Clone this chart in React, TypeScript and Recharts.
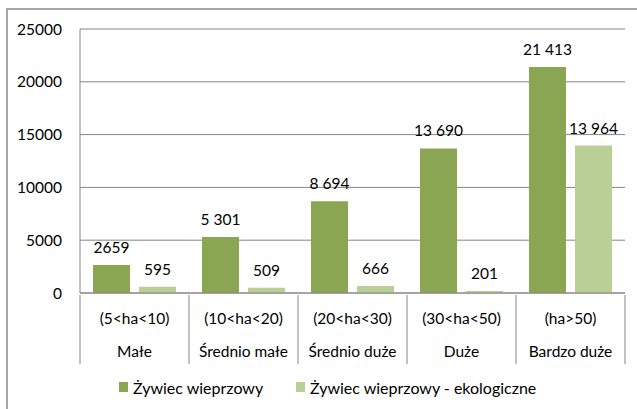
import { Bar, BarChart, CartesianGrid, LabelList, Legend, XAxis, YAxis } from "recharts";

const categories = ["(5<ha<10)", "(10<ha<20)", "(20<ha<30)", "(30<ha<50)", "(ha>50)"];
const groups = ["Małe", "Średnio małe", "Średnio duże", "Duże", "Bardzo duże"];
const pork = [2659, 5301, 8694, 13690, 21413];
const porkLabels = ["2659", "5 301", "8 694", "13 690", "21 413"];
const organic = [595, 509, 666, 201, 13964];
const organicLabels = ["595", "509", "666", "201", "13 964"];
const yTicks = [0, 5000, 10000, 15000, 20000, 25000];
const seriesNames = ["Żywiec wieprzowy", "Żywiec wieprzowy - ekologiczne"];

const DARK = "#8AA652";
const LIGHT = "#B9CF96";
const AXIS = "#868686";
const FONT = "Lato, sans-serif";
const FS = 15.5;

const data = categories.map((c, i) => ({
  name: c,
  group: groups[i],
  pork: pork[i],
  organic: organic[i],
  porkLabel: porkLabels[i],
  organicLabel: organicLabels[i],
}));

function CategoryTick(props: any) {
  const { x, y, payload, index, visibleTicksCount } = props;
  const half = payload?.offset || 54.5;
  const row = data[index];
  return (
    <g>
      <line x1={x - half} x2={x - half} y1={y} y2={y + 69} stroke={AXIS} />
      {index === visibleTicksCount - 1 && (
        <line x1={x + half} x2={x + half} y1={y} y2={y + 69} stroke={AXIS} />
      )}
      <text x={x} y={y + 24} dy="0.35em" textAnchor="middle" fill="#000" fontSize={FS} fontFamily={FONT}>
        {payload.value}
      </text>
      <text x={x} y={y + 57} dy="0.35em" textAnchor="middle" fill="#000" fontSize={FS} fontFamily={FONT}>
        {row ? row.group : ""}
      </text>
    </g>
  );
}

function ValueLabel(props: any) {
  const { x, y, width, value } = props;
  return (
    <text x={x + width / 2} y={y - 12} textAnchor="middle" fill="#000" fontSize={FS} fontFamily={FONT}>
      {value}
    </text>
  );
}

function LegendBox() {
  const colors = [DARK, LIGHT];
  return (
    <div style={{ height: 38, display: "flex", paddingLeft: 111, paddingTop: 14, boxSizing: "border-box",
      fontFamily: FONT, fontSize: 16, color: "#000" }}>
      {seriesNames.map((n, i) => (
        <div key={n} style={{ display: "flex", alignItems: "center", width: i === 0 ? 177 : "auto", height: 20 }}>
          <span style={{ width: 9, height: 10, background: colors[i], marginRight: 5, display: "inline-block" }} />
          <span>{n}</span>
        </div>
      ))}
    </div>
  );
}

export default function App() {
  return (
    <div style={{ position: "absolute", left: 6, top: 8, width: 640, height: 410,
      borderTop: "2px solid #A6A6A6", borderLeft: "2px solid #A6A6A6", background: "#fff" }}>
      <BarChart width={629} height={399} data={data}
        margin={{ top: 19, right: 12, left: 0, bottom: 8 }}
        barCategoryGap={13} barGap={9}>
        <CartesianGrid stroke={AXIS} vertical={false} />
        <XAxis dataKey="name" interval={0} height={70} tickLine={false} tickSize={0}
          axisLine={{ stroke: AXIS }} tick={<CategoryTick />} />
        <YAxis width={72} domain={[0, 25000]} ticks={yTicks} tickLine={false} tickMargin={12}
          axisLine={{ stroke: AXIS }} interval={0}
          tick={{ fill: "#000", fontSize: FS, fontFamily: FONT }} />
        <Legend verticalAlign="bottom" content={<LegendBox />} />
        <Bar dataKey="pork" fill={DARK} isAnimationActive={false}>
          <LabelList dataKey="porkLabel" content={<ValueLabel />} />
        </Bar>
        <Bar dataKey="organic" fill={LIGHT} isAnimationActive={false}>
          <LabelList dataKey="organicLabel" content={<ValueLabel />} />
        </Bar>
      </BarChart>
    </div>
  );
}
